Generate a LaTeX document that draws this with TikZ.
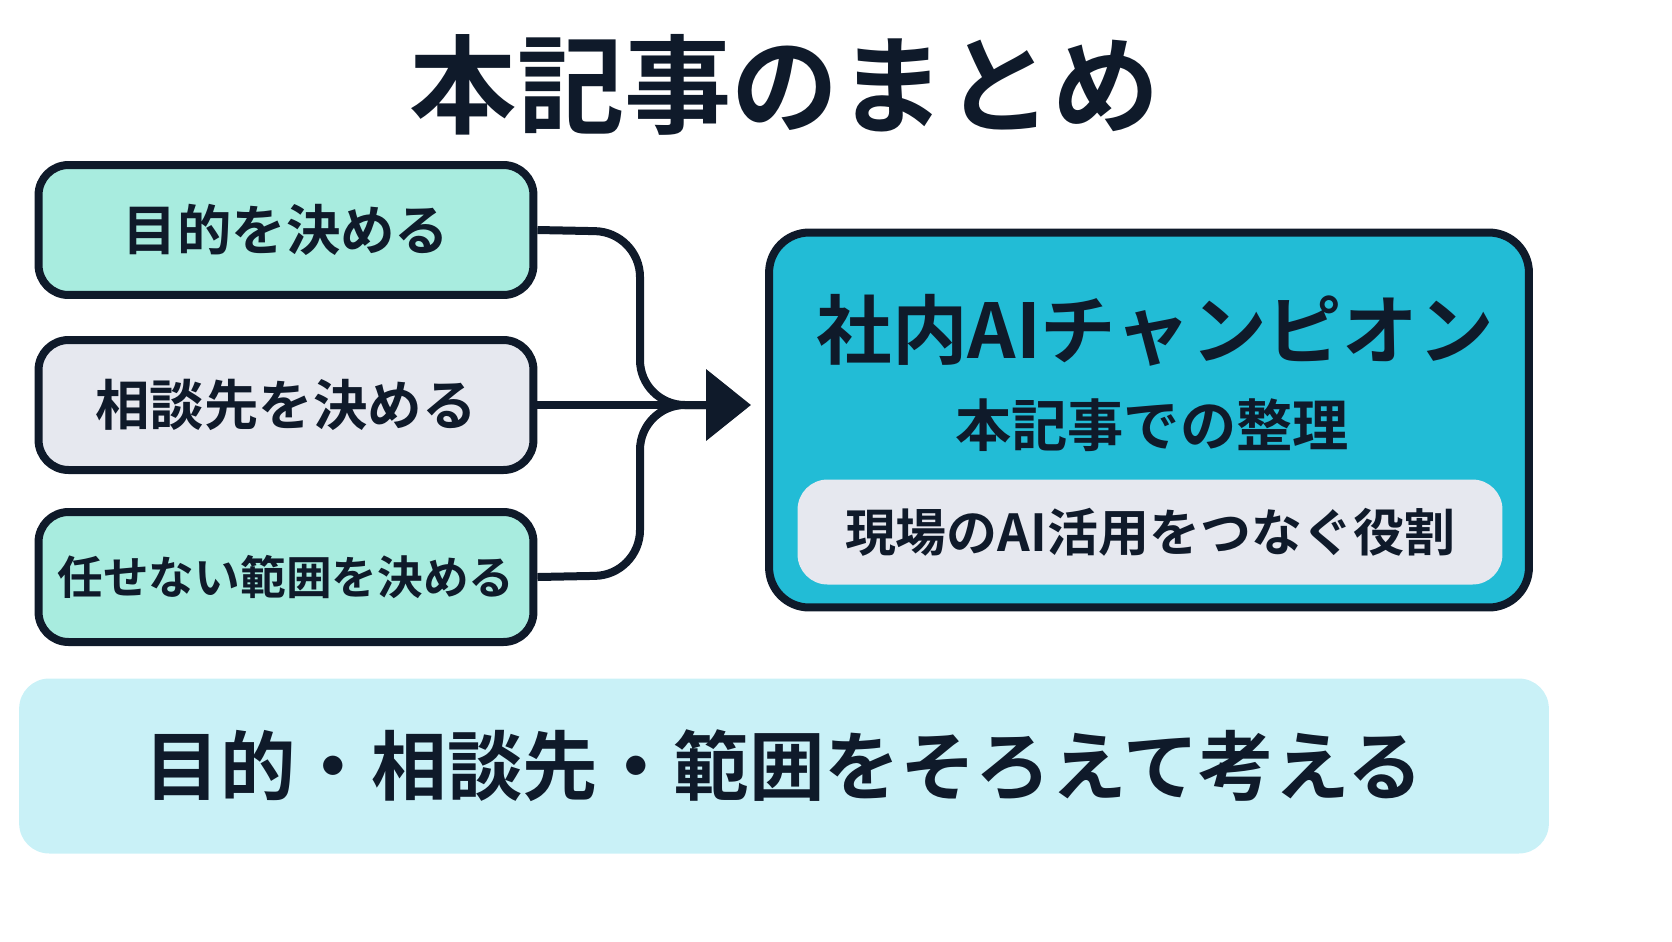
\documentclass[tikz,border=0pt]{standalone}
\usepackage{fontspec}
\setmainfont{Noto Sans CJK JP}[BoldFont={* Bold}]
\usetikzlibrary{positioning}
\usetikzlibrary{arrows.meta}
\definecolor{ink}{HTML}{0F1A2A}
\definecolor{mint}{HTML}{A8ECDF}
\definecolor{pale}{HTML}{E6E8EF}
\definecolor{cyanbox}{HTML}{22BCD6}
\definecolor{band}{HTML}{C9F1F7}
\tikzset{
  stepbox/.style={draw=ink, line width=0.16cm, rounded corners=0.6cm, inner sep=0pt, minimum width=9.9cm, minimum height=2.6cm, font=\bfseries\fontsize{31}{31}\selectfont, text=ink},
  link/.style={draw=ink, line width=0.16cm, rounded corners=0.9cm}
}
\begin{document}
\begin{tikzpicture}[x=0.02cm, y=-0.02cm]
              \useasboundingbox (0,0) rectangle (1672,941);
              % Titel
              \node[font=\bfseries\fontsize{61}{61}\selectfont, text=ink] (title) at (785,85) {本記事のまとめ};
              % Schritte
              \node[stepbox, fill=mint] (purpose) at (286,230) {目的を決める};
              \node[stepbox, fill=pale] (contact) at (286,405) {相談先を決める};
              \node[stepbox, fill=mint, font=\bfseries\fontsize{26}{26}\selectfont] (scope) at (286,577) {任せない範囲を決める};
              % Rolle
              \node[draw=ink, fill=cyanbox, line width=0.16cm, rounded corners=0.8cm, inner sep=0pt, minimum width=15.2cm, minimum height=7.5cm] (role) at (1149,420) {};
              \node[font=\bfseries\fontsize{43}{43}\selectfont, text=ink] (champ) at (1155,330) {社内AIチャンピオン};
              \node[font=\bfseries\fontsize{32}{32}\selectfont, text=ink] (sub) at (1152,425) {本記事での整理};
              \node[fill=pale, rounded corners=0.6cm, inner sep=0pt, minimum width=14.1cm, minimum height=2.1cm, font=\bfseries\fontsize{29}{29}\selectfont, text=ink] (task) at (1150,532) {現場のAI活用をつなぐ役割};
              % Verbindungen
              \coordinate (join) at (720,405);
              \draw[link] (purpose.east) -- (640,232) -- (640,405) -- (join);
              \draw[link] (scope.east) -- (640,575) -- (640,405) -- (join);
              \draw[link, -{Triangle[length=0.9cm,width=1.4cm]}, shorten >=8] (contact.east) -- (contact.east -| role.west);
              % Fazit
              \node[fill=band, rounded corners=0.6cm, inner sep=0pt, minimum width=30.6cm, minimum height=3.5cm, font=\bfseries\fontsize{43}{43}\selectfont, text=ink] (sum) at (784,766) {目的・相談先・範囲をそろえて考える};
            \end{tikzpicture}
\end{document}
